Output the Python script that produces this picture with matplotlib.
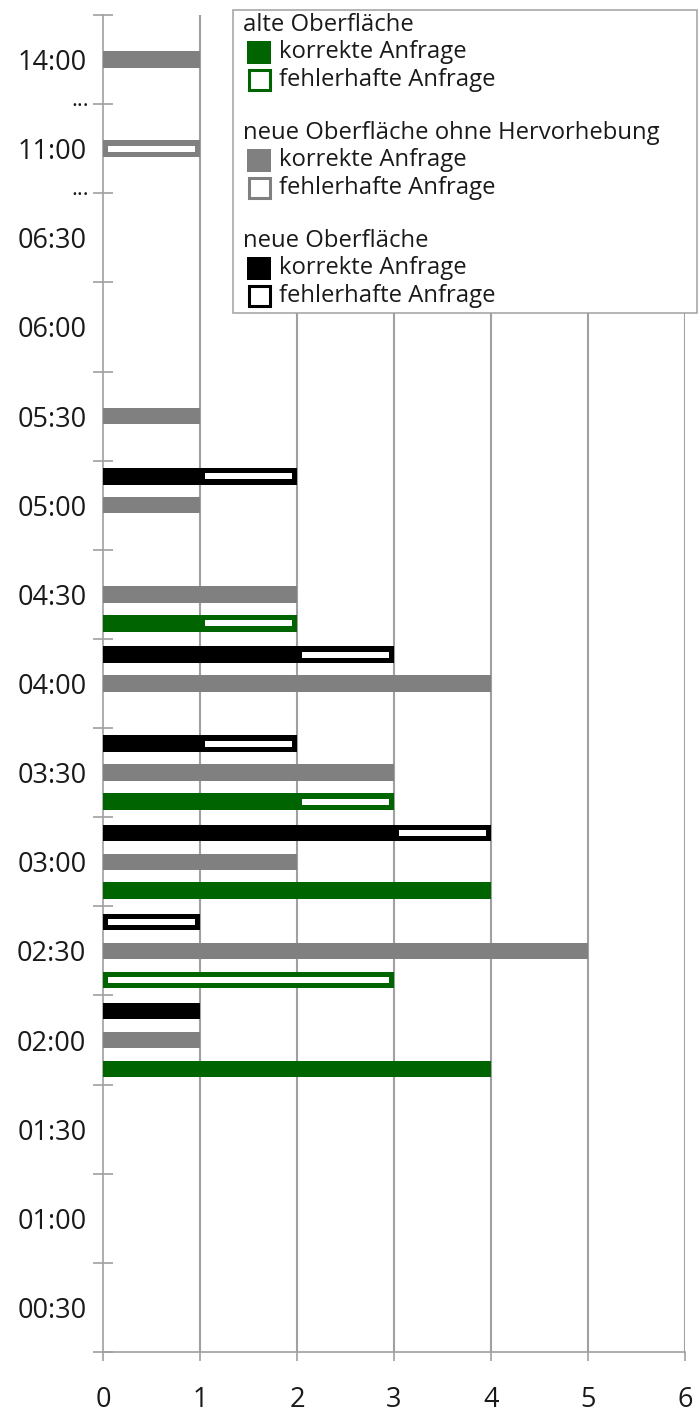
import numpy as np
import matplotlib.pyplot as plt
from matplotlib.patches import Rectangle
from matplotlib.ticker import FixedLocator

plt.rcParams['font.family'] = ['Open Sans', 'DejaVu Sans']

W, H = 698, 1414
TXT = '#1a1a1a'
AX = '#a0a0a0'

# Zeitpunkte von unten nach oben
times = ['00:30', '01:00', '01:30', '02:00', '02:30', '03:00', '03:30', '04:00',
         '04:30', '05:00', '05:30', '06:00', '06:30', '11:00', '14:00']

# alte Oberflaeche
alt_ok = [0, 0, 0, 4, 0, 4, 2, 0, 1, 0, 0, 0, 0, 0, 0]
alt_err = [0, 0, 0, 0, 3, 0, 1, 0, 1, 0, 0, 0, 0, 0, 0]
# neue Oberflaeche ohne Hervorhebung
ohne_ok = [0, 0, 0, 1, 5, 2, 3, 4, 2, 1, 1, 0, 0, 0, 1]
ohne_err = [0, 0, 0, 0, 0, 0, 0, 0, 0, 0, 0, 0, 0, 1, 0]
# neue Oberflaeche
neu_ok = [0, 0, 0, 1, 0, 3, 1, 2, 0, 1, 0, 0, 0, 0, 0]
neu_err = [0, 0, 0, 0, 1, 1, 1, 1, 0, 1, 0, 0, 0, 0, 0]

groups = [
    ('alte Oberfläche', '#006400', alt_ok, alt_err, -0.325),
    ('neue Oberfläche ohne Hervorhebung', '#808080', ohne_ok, ohne_err, 0.0),
    ('neue Oberfläche', '#000000', neu_ok, neu_err, 0.325),
]

fig = plt.figure(figsize=(W / 100, H / 100), dpi=100)
ax = fig.add_axes([103 / W, 1 - 1352 / H, (685 - 103) / W, (1352 - 15) / H])

y = np.arange(len(times))
bh = 0.185     # Balkenhoehe
ih = 0.068     # Hoehe der weissen Innenflaeche
ix = 0.055     # seitlicher Rand der Innenflaeche

for name, col, ok, err, off in groups:
    ok = np.array(ok, dtype=float)
    err = np.array(err, dtype=float)
    ax.barh(y + off, ok, height=bh, color=col, zorder=3)
    m = err > 0
    ax.barh(y[m] + off, err[m], left=ok[m], height=bh, color=col, zorder=3)
    ax.barh(y[m] + off, err[m] - 2 * ix, left=ok[m] + ix, height=ih,
            color='white', zorder=4)

ax.set_xlim(0, 6)
ax.set_ylim(-0.5, len(times) - 0.5)

# vertikale Gitterlinien
for v in range(1, 7):
    ax.axvline(v, color=AX, lw=1.5, zorder=1)

for s in ['top', 'right']:
    ax.spines[s].set_visible(False)
for s in ['left', 'bottom']:
    ax.spines[s].set_color(AX)
    ax.spines[s].set_linewidth(1.2)

ax.set_xticks(range(7))
ax.tick_params(axis='x', direction='out', length=6.5, width=1.2, color=AX,
               labelsize=19.5, labelcolor=TXT, pad=18)

# Hauptstriche an den Kategoriegrenzen, Beschriftung in der Mitte
bounds = np.arange(-0.5, len(times), 1.0)
blabels = ['' for _ in bounds]
blabels[list(bounds).index(12.5)] = '···'
blabels[list(bounds).index(13.5)] = '···'
ax.yaxis.set_major_locator(FixedLocator(bounds))
ax.set_yticklabels(blabels)
ax.yaxis.set_minor_locator(FixedLocator(y))
ax.set_yticks(y, minor=True)
ax.set_yticklabels(times, minor=True)
ax.tick_params(axis='y', which='major', direction='inout', length=14.4,
               width=1.2, color=AX, labelsize=16, labelcolor=TXT, pad=3)
ax.tick_params(axis='y', which='minor', length=0, labelsize=19.5,
               labelcolor=TXT, pad=12)


# Legende
def fx(px):
    return px / W


def fy(py):
    return 1 - py / H


fig.add_artist(Rectangle((fx(233), fy(313)), fx(697) - fx(233), fy(10) - fy(313),
                         transform=fig.transFigure, facecolor='white',
                         edgecolor=AX, lw=1.1, zorder=5))

yc = 25
for name, col, ok, err, off in groups:
    fig.text(fx(243), fy(yc), name, fontsize=17.2, color=TXT, va='center',
             ha='left', zorder=6)
    for lab, filled in [('korrekte Anfrage', True), ('fehlerhafte Anfrage', False)]:
        yc += 27.5
        if filled:
            r = Rectangle((fx(247), fy(yc + 11.5)), fx(24), 23 / H,
                          transform=fig.transFigure, facecolor=col,
                          edgecolor='none', zorder=6)
        else:
            r = Rectangle((fx(248.5), fy(yc + 10)), fx(21), 20 / H,
                          transform=fig.transFigure, facecolor='white',
                          edgecolor=col, lw=2.2, zorder=6)
        fig.add_artist(r)
        fig.text(fx(279), fy(yc), lab, fontsize=17.2, color=TXT, va='center',
                 ha='left', zorder=6)
    yc += 53

fig.savefig('out.png', dpi=100)
